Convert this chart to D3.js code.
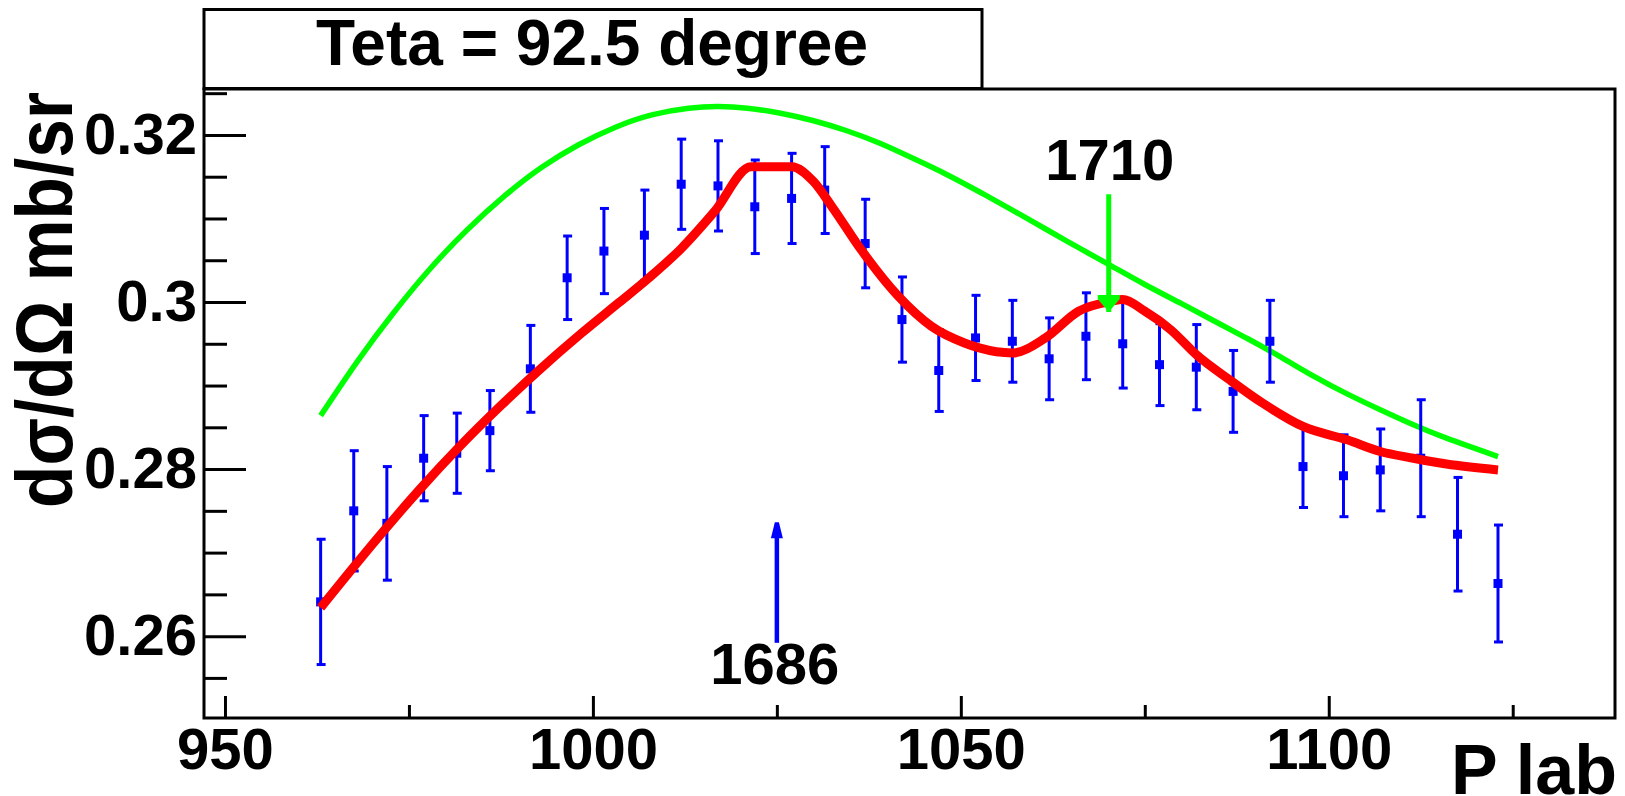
<!DOCTYPE html>
<html>
<head>
<meta charset="utf-8">
<script src="https://cdn.jsdelivr.net/npm/d3@7"></script>
<style>
    body { margin: 0; background: #ffffff; }
    text { font-family: "Liberation Sans", Arial, sans-serif; font-weight: bold; fill: #000; }
</style>
</head>
<body>
<div id="chart"></div>
<script>
// measured points: P lab (MeV/c), cross section (mb/sr), error
var pLab = [963, 967.5, 972, 977, 981.5, 986, 991.5, 996.5, 1001.5, 1007, 1012, 1017, 1022, 1027, 1031.5, 1037,
    1042, 1047, 1052, 1057, 1062, 1067, 1072, 1077, 1082, 1087, 1092, 1096.5, 1102, 1107, 1112.5, 1117.5, 1123];
var dsig = [0.2641, 0.2750, 0.2735, 0.2813, 0.2819, 0.2846, 0.2920, 0.3029, 0.3061, 0.3080, 0.3141, 0.3139,
    0.3114, 0.3124, 0.3134, 0.3070, 0.2979, 0.2918, 0.2957, 0.2953, 0.2932, 0.2959, 0.2950, 0.2925, 0.2922,
    0.2893, 0.2953, 0.2803, 0.2792, 0.2799, 0.2813, 0.2722, 0.2663];
var dsigErr = [0.0075, 0.0072, 0.0068, 0.0051, 0.0048, 0.0048, 0.0052, 0.0050, 0.0051, 0.0054, 0.0054, 0.0054,
    0.0056, 0.0054, 0.0052, 0.0053, 0.0051, 0.0049, 0.0051, 0.0049, 0.0049, 0.0052, 0.0053, 0.0049, 0.0051,
    0.0049, 0.0049, 0.0049, 0.0049, 0.0049, 0.0070, 0.0068, 0.0070];

// red curve (fit with resonances)
var fitP = [963, 971, 976.5, 982, 987.5, 992.5, 998.5, 1003.5, 1007.5, 1012, 1016.5, 1021.5, 1027, 1030, 1032.5,
    1036.5, 1041.5, 1046, 1050.5, 1052.5, 1057, 1061.5, 1066, 1070.5, 1072, 1075, 1078.5, 1082, 1086.5, 1091,
    1096.5, 1102.5, 1107, 1111.5, 1116, 1123];
var fitY = [0.2634, 0.2720, 0.2776, 0.2828, 0.2876, 0.2917, 0.2963, 0.2999, 0.3028, 0.3064, 0.3108, 0.3162,
    0.3162, 0.3144, 0.3114, 0.3062, 0.3007, 0.2971, 0.2951, 0.2945, 0.2939, 0.2957, 0.2989, 0.3001, 0.3003,
    0.2989, 0.2967, 0.2937, 0.2907, 0.2879, 0.2851, 0.2835, 0.2821, 0.2813, 0.2806, 0.2799];

// green curve (background only)
var bgP = [963, 968, 973, 978, 983, 988, 993, 998, 1003, 1008, 1013, 1017, 1021, 1025.5, 1030, 1034.5, 1039,
    1043.5, 1048, 1052.5, 1057, 1062, 1066, 1070.5, 1075, 1080, 1084.5, 1089, 1093.5, 1098, 1102.5, 1107,
    1111.5, 1116, 1123];
var bgY = [0.2864, 0.2929, 0.2988, 0.3041, 0.3087, 0.3127, 0.3161, 0.3188, 0.3209, 0.3224, 0.3232, 0.3234,
    0.3232, 0.3226, 0.3217, 0.3205, 0.3190, 0.3172, 0.3153, 0.3132, 0.3110, 0.3085, 0.3065, 0.3043, 0.3021,
    0.2998, 0.2977, 0.2956, 0.2934, 0.2911, 0.2890, 0.2871, 0.2853, 0.2837, 0.2815];

// axis ticks
var xMajor = [950, 1000, 1050, 1100];
var xMinor = [975, 1025, 1075, 1125];
var yMajor = [0.26, 0.28, 0.30, 0.32];
var yMinor = [0.255, 0.265, 0.27, 0.275, 0.285, 0.29, 0.295, 0.305, 0.31, 0.315, 0.325];

// resonance markers
var resLabels = ["1686", "1710"];
var resP = [1025.0, 1070.1];
var resTop = [0.2734, 0.3129];
var resBottom = [0.2592, 0.2988];

var titleText = "Teta = 92.5 degree";
var xTitle = "P lab";
var yTitle = "dσ/dΩ mb/sr";

var width = 1625,
    height = 796;

var frame = {left: 204, right: 1615, top: 89, bottom: 718};

var x = d3.scaleLinear()
    .domain([947.15, 1138.9])
    .range([frame.left, frame.right]);

var y = d3.scaleLinear()
    .domain([0.2502, 0.3255])
    .range([frame.bottom, frame.top]);

var svg = d3.select("#chart")
    .append("svg")
    .attr("width", width)
    .attr("height", height);

// title box
svg.append("rect")
    .attr("x", 204)
    .attr("y", 9.5)
    .attr("width", 778)
    .attr("height", 79)
    .style("fill", "none")
    .style("stroke", "#000")
    .style("stroke-width", 3);

svg.append("text")
    .attr("x", 592)
    .attr("y", 65)
    .attr("text-anchor", "middle")
    .style("font-size", "64px")
    .text(titleText);

// frame
svg.append("rect")
    .attr("x", frame.left)
    .attr("y", frame.top)
    .attr("width", frame.right - frame.left)
    .attr("height", frame.bottom - frame.top)
    .style("fill", "none")
    .style("stroke", "#000")
    .style("stroke-width", 3);

// x axis
var xAxis = d3.axisBottom(x)
    .tickValues(xMajor)
    .tickSize(-22)
    .tickPadding(10)
    .tickFormat(d3.format("d"));

svg.append("g")
    .attr("transform", "translate(0," + frame.bottom + ")")
    .call(xAxis);

svg.append("g")
    .attr("transform", "translate(0," + frame.bottom + ")")
    .call(d3.axisBottom(x).tickValues(xMinor).tickSize(-13).tickFormat(""));

// y axis
var yAxis = d3.axisLeft(y)
    .tickValues(yMajor)
    .tickSize(-42)
    .tickPadding(7)
    .tickFormat(d3.format("~g"));

svg.append("g")
    .attr("transform", "translate(" + frame.left + ",0)")
    .call(yAxis);

svg.append("g")
    .attr("transform", "translate(" + frame.left + ",0)")
    .call(d3.axisLeft(y).tickValues(yMinor).tickSize(-23).tickFormat(""));

svg.selectAll(".domain").remove();
svg.selectAll(".tick line")
    .style("stroke", "#000")
    .style("stroke-width", 3);
svg.selectAll(".tick text")
    .style("font-family", "'Liberation Sans', Arial, sans-serif")
    .style("font-weight", "bold")
    .style("font-size", "58px")
    .style("fill", "#000");

// axis titles
svg.append("text")
    .attr("x", 1617)
    .attr("y", 794)
    .attr("text-anchor", "end")
    .style("font-size", "70px")
    .text(xTitle);

svg.append("text")
    .attr("transform", "translate(72,92) rotate(-90)")
    .attr("text-anchor", "end")
    .attr("textLength", 416)
    .attr("lengthAdjust", "spacingAndGlyphs")
    .style("font-size", "80px")
    .text(yTitle);

// green background curve
var bgLine = d3.line()
    .x(function (d, i) { return x(bgP[i]); })
    .y(function (d) { return y(d); })
    .curve(d3.curveNatural);

svg.append("path")
    .attr("d", bgLine(bgY))
    .style("fill", "none")
    .style("stroke", "#00ff00")
    .style("stroke-width", 5.5);

// data with error bars
var points = svg.append("g")
    .selectAll("g")
    .data(dsig)
    .enter()
    .append("g")
    .attr("transform", function (d, i) {
        return "translate(" + x(pLab[i]) + ",0)";
    });

points.append("line")
    .attr("y1", function (d, i) { return y(d + dsigErr[i]); })
    .attr("y2", function (d, i) { return y(d - dsigErr[i]); })
    .style("stroke", "#0000ff")
    .style("stroke-width", 3);

points.append("line")
    .attr("x1", -4)
    .attr("x2", 5)
    .attr("y1", function (d, i) { return y(d + dsigErr[i]); })
    .attr("y2", function (d, i) { return y(d + dsigErr[i]); })
    .style("stroke", "#0000ff")
    .style("stroke-width", 3);

points.append("line")
    .attr("x1", -4)
    .attr("x2", 5)
    .attr("y1", function (d, i) { return y(d - dsigErr[i]); })
    .attr("y2", function (d, i) { return y(d - dsigErr[i]); })
    .style("stroke", "#0000ff")
    .style("stroke-width", 3);

points.append("rect")
    .attr("x", -4.5)
    .attr("y", function (d) { return y(d) - 4.5; })
    .attr("width", 9)
    .attr("height", 9)
    .style("fill", "#0000ff");

// red fit curve
var fitLine = d3.line()
    .x(function (d, i) { return x(fitP[i]); })
    .y(function (d) { return y(d); })
    .curve(d3.curveMonotoneX);

svg.append("path")
    .attr("d", fitLine(fitY))
    .style("fill", "none")
    .style("stroke", "#ff0000")
    .style("stroke-width", 9)
    .style("stroke-linejoin", "round");

// resonance arrows
// 1686 : blue, pointing up, label below
var ax = x(resP[0]);
svg.append("line")
    .attr("x1", ax).attr("x2", ax)
    .attr("y1", y(resTop[0]))
    .attr("y2", y(resBottom[0]))
    .style("stroke", "#0000ff")
    .style("stroke-width", 4.5);
svg.append("path")
    .attr("d", "M" + (ax - 2) + "," + (y(resTop[0]) - 2) + "L" + (ax + 2) + "," + (y(resTop[0]) - 2) +
        "L" + (ax + 6) + "," + (y(resTop[0]) + 14) + "L" + (ax - 6) + "," + (y(resTop[0]) + 14) + "Z")
    .style("fill", "#0000ff");
svg.append("text")
    .attr("x", ax - 2)
    .attr("y", 684)
    .attr("text-anchor", "middle")
    .style("font-size", "58px")
    .text(resLabels[0]);

// 1710 : green, pointing down, label above
var bx = x(resP[1]);
svg.append("line")
    .attr("x1", bx).attr("x2", bx)
    .attr("y1", y(resTop[1]))
    .attr("y2", y(resBottom[1]))
    .style("stroke", "#00ff00")
    .style("stroke-width", 5);
svg.append("path")
    .attr("d", "M" + (bx - 11) + "," + (y(resBottom[1]) - 17) + "L" + (bx + 11) + "," + (y(resBottom[1]) - 17) +
        "L" + (bx + 11) + "," + (y(resBottom[1]) - 13) + "L" + bx + "," + y(resBottom[1]) +
        "L" + (bx - 11) + "," + (y(resBottom[1]) - 13) + "Z")
    .style("fill", "#00ff00");
svg.append("text")
    .attr("x", bx + 1)
    .attr("y", 180)
    .attr("text-anchor", "middle")
    .style("font-size", "58px")
    .text(resLabels[1]);
</script>
</body>
</html>
